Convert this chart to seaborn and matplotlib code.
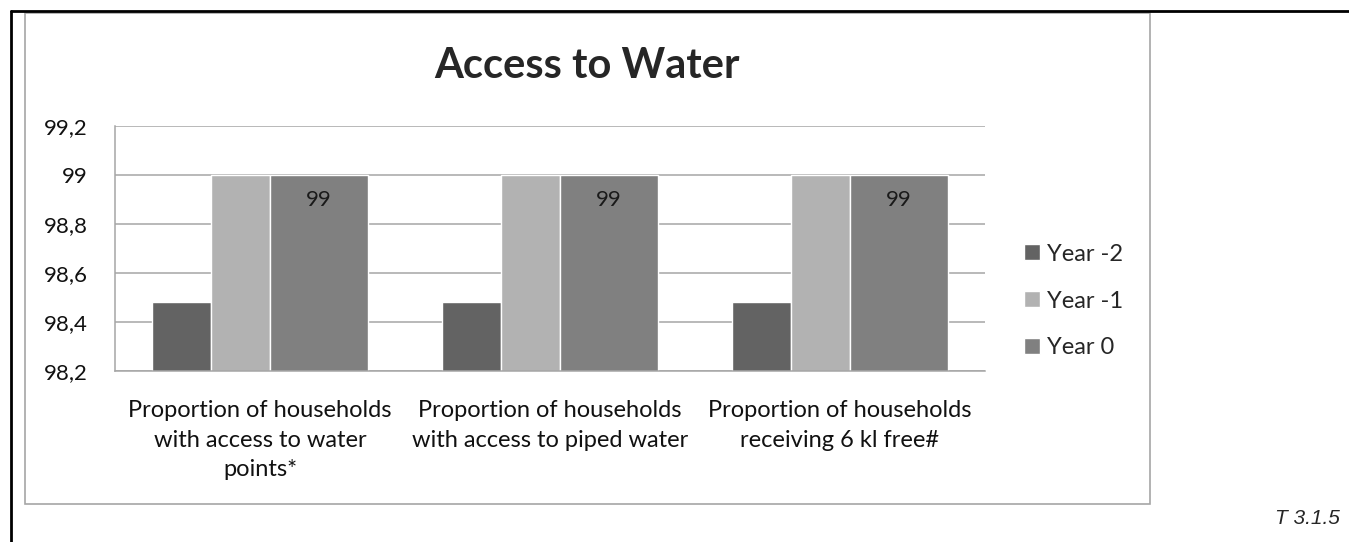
import pandas as pd
import seaborn as sns
import matplotlib.pyplot as plt
from matplotlib.patches import Rectangle
from matplotlib.lines import Line2D

categories = ['Proportion of households\nwith access to water\npoints*',
              'Proportion of households\nwith access to piped water',
              'Proportion of households\nreceiving 6 kl free#']
years = ['Year -2', 'Year -1', 'Year 0']
year_m2 = [98.48, 98.48, 98.48]
year_m1 = [99, 99, 99]
year_0 = [99, 99, 99]
y_ticks = [98.2, 98.4, 98.6, 98.8, 99, 99.2]
y_labels = ['98,2', '98,4', '98,6', '98,8', '99', '99,2']
colors = ['#636363', '#b2b2b2', '#808080']

df = pd.DataFrame({
    'Categoria': categories * 3,
    'Serie': [years[0]] * 3 + [years[1]] * 3 + [years[2]] * 3,
    'Valor': year_m2 + year_m1 + year_0,
})

sns.set_style('white')
plt.rcParams['font.family'] = ['Lato', 'DejaVu Sans']

fig = plt.figure(figsize=(13.49, 5.42), dpi=100)
ax = fig.add_axes([0.0853, 0.3155, 0.6449, 0.452])

sns.barplot(data=df, x='Categoria', y='Valor', hue='Serie', palette=colors,
            width=0.61, saturation=1, ax=ax, legend=True)

# Year 0 bars are wider in the original chart
w = ax.containers[0].patches[0].get_width()
extra = w * (98 / 59 - 1)
for i, cont in enumerate(ax.containers):
    for p in cont.patches:
        p.set_x(p.get_x() - extra / 2)
        if i == 2:
            p.set_width(p.get_width() + extra)
            ax.annotate('99', (p.get_x() + p.get_width() / 2, p.get_height()),
                        xytext=(0, -18), textcoords='offset points',
                        ha='center', va='center', fontsize=16, color='#1a1a1a')

ax.set_ylim(98.2, 99.2)
ax.set_xlim(-0.5, 2.5)
ax.set_yticks(y_ticks)
ax.set_yticklabels(y_labels)
ax.yaxis.grid(True, color='#a6a6a6', linewidth=1.1)
ax.set_axisbelow(True)
for s in ['top', 'right']:
    ax.spines[s].set_visible(False)
for s in ['left', 'bottom']:
    ax.spines[s].set_color('#a6a6a6')
    ax.spines[s].set_linewidth(1.1)
ax.tick_params(axis='both', length=0, labelcolor='#111111')
ax.tick_params(axis='x', pad=21, labelsize=17)
ax.tick_params(axis='y', pad=19.5, labelsize=16)
for t in ax.get_xticklabels():
    t.set_linespacing(1.5)
ax.set_xlabel('')
ax.set_ylabel('')

handles, labels = ax.get_legend_handles_labels()
ax.get_legend().remove()
fig.legend(handles, labels, loc='center left', bbox_to_anchor=(1003 / 1349, 1 - 301 / 542),
           frameon=False, fontsize=17, handlelength=0.65, handleheight=0.65,
           handletextpad=0.3, labelspacing=1.1)

fig.text(587 / 1349, 1 - 66 / 542, 'Access to Water', ha='center', va='center',
         fontsize=30, fontweight='bold')

# chart frame and table cell lines
fig.add_artist(Rectangle((25 / 1349, 1 - 504 / 542), 1125 / 1349, 491 / 542,
                         transform=fig.transFigure, fill=False, edgecolor='#a6a6a6', linewidth=1.2))
fig.add_artist(Line2D([10.5 / 1349, 10.5 / 1349], [0, 1 - 11 / 542], transform=fig.transFigure,
                      color='black', linewidth=2))
fig.add_artist(Line2D([10.5 / 1349, 1], [1 - 11 / 542, 1 - 11 / 542], transform=fig.transFigure,
                      color='black', linewidth=2))

fig.text(1340 / 1349, 1 - 518 / 542, 'T 3.1.5', ha='right', va='center', fontsize=15,
         style='italic', family=['Liberation Sans', 'DejaVu Sans'])

fig.savefig('out.png', dpi=100)
